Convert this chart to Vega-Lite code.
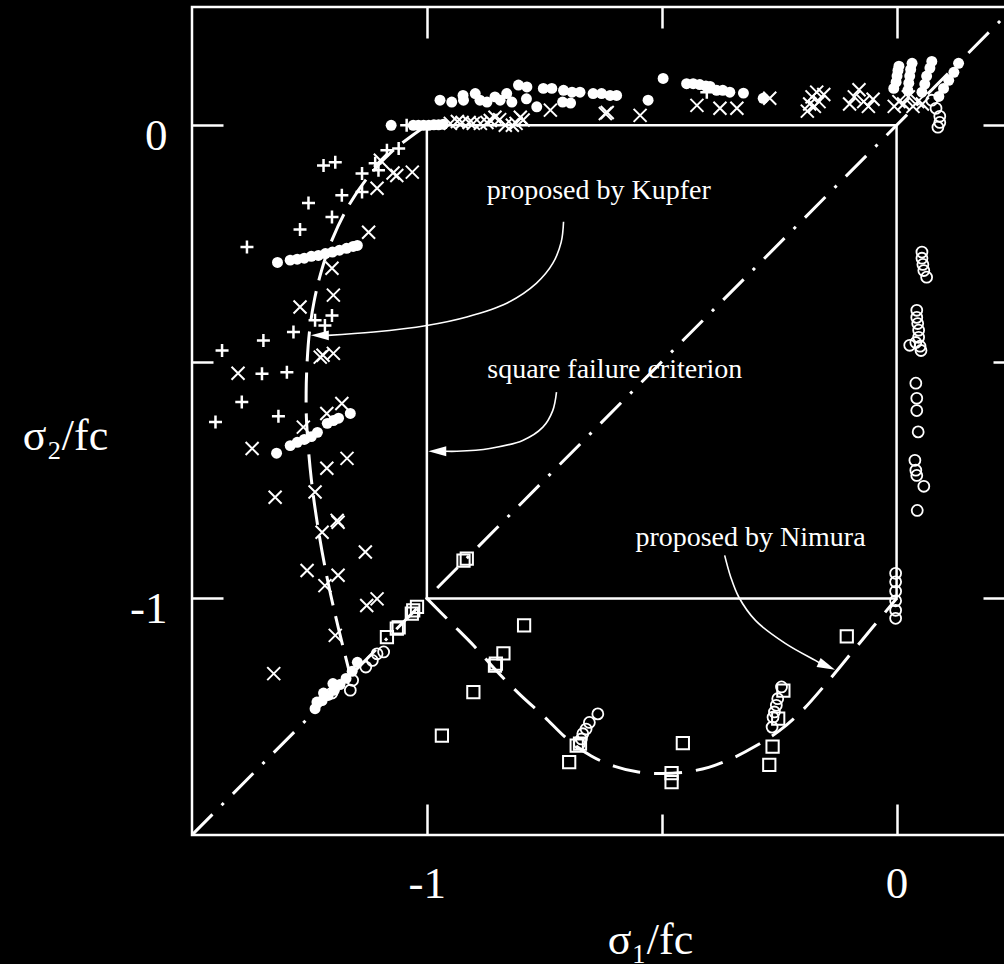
{
  "$schema": "https://vega.github.io/schema/vega-lite/v6.json",
  "width": 822,
  "height": 828,
  "autosize": {"type": "none"},
  "padding": {"left": 192, "top": 7, "right": -10, "bottom": 129},
  "background": "black",
  "config": {
    "view": {"stroke": "white", "strokeWidth": 2.5, "fill": "black"},
    "axis": {
      "grid": false, "domain": false, "tickColor": "white", "tickWidth": 2.5,
      "labelColor": "white", "titleColor": "white",
      "labelFont": "Liberation Serif", "titleFont": "Liberation Serif",
      "labelFontSize": 45, "titleFontSize": 44, "titleFontWeight": "normal",
      "labelFlush": false, "labelOverlap": false
    }
  },
  "datasets": {
    "pts": [
      {"s":"fc","x":-1.076,"y":0.0},{"s":"fc","x":-1.029,"y":0.0},{"s":"fc","x":-1.018,"y":0.0},{"s":"fc","x":-1.007,"y":0.0},{"s":"fc","x":-0.996,"y":0.0},{"s":"fc","x":-0.985,"y":0.001},{"s":"fc","x":-0.975,"y":0.001},{"s":"fc","x":-0.965,"y":0.002},
      {"s":"fc","x":-0.972,"y":0.053},{"s":"fc","x":-0.947,"y":0.049},{"s":"fc","x":-0.923,"y":0.063},{"s":"fc","x":-0.922,"y":0.053},{"s":"fc","x":-0.897,"y":0.067},{"s":"fc","x":-0.887,"y":0.053},{"s":"fc","x":-0.872,"y":0.049},{"s":"fc","x":-0.855,"y":0.060},{"s":"fc","x":-0.844,"y":0.053},{"s":"fc","x":-0.830,"y":0.067},{"s":"fc","x":-0.819,"y":0.049},
      {"s":"fc","x":-0.805,"y":0.085},{"s":"fc","x":-0.787,"y":0.081},{"s":"fc","x":-0.752,"y":0.078},{"s":"fc","x":-0.734,"y":0.078},{"s":"fc","x":-0.709,"y":0.074},{"s":"fc","x":-0.691,"y":0.070},{"s":"fc","x":-0.674,"y":0.070},{"s":"fc","x":-0.646,"y":0.067},{"s":"fc","x":-0.628,"y":0.067},{"s":"fc","x":-0.610,"y":0.063},{"s":"fc","x":-0.596,"y":0.063},
      {"s":"fc","x":-0.788,"y":0.056},{"s":"fc","x":-0.766,"y":0.039},{"s":"fc","x":-0.711,"y":0.049},{"s":"fc","x":-0.694,"y":0.047},
      {"s":"fc","x":-0.529,"y":0.053},{"s":"fc","x":-0.497,"y":0.099},
      {"s":"fc","x":-0.447,"y":0.088},{"s":"fc","x":-0.433,"y":0.088},{"s":"fc","x":-0.419,"y":0.086},{"s":"fc","x":-0.406,"y":0.083},{"s":"fc","x":-0.397,"y":0.082},
      {"s":"fc","x":-0.383,"y":0.074},{"s":"fc","x":-0.370,"y":0.074},{"s":"fc","x":-0.355,"y":0.070},{"s":"fc","x":-0.326,"y":0.068},{"s":"fc","x":-0.284,"y":0.057},
      {"s":"fc","x":-0.006,"y":0.078},{"s":"fc","x":-0.001,"y":0.091},{"s":"fc","x":0.001,"y":0.104},{"s":"fc","x":0.003,"y":0.116},{"s":"fc","x":0.005,"y":0.125},
      {"s":"fc","x":0.024,"y":0.074},{"s":"fc","x":0.026,"y":0.089},{"s":"fc","x":0.028,"y":0.104},{"s":"fc","x":0.030,"y":0.118},{"s":"fc","x":0.033,"y":0.131},
      {"s":"fc","x":0.054,"y":0.070},{"s":"fc","x":0.060,"y":0.087},{"s":"fc","x":0.064,"y":0.104},{"s":"fc","x":0.071,"y":0.121},{"s":"fc","x":0.075,"y":0.135},
      {"s":"fc","x":0.090,"y":0.061},{"s":"fc","x":0.100,"y":0.078},{"s":"fc","x":0.111,"y":0.095},{"s":"fc","x":0.122,"y":0.112},{"s":"fc","x":0.132,"y":0.131},
      {"s":"fc","x":-1.318,"y":-0.290},{"s":"fc","x":-1.291,"y":-0.285},{"s":"fc","x":-1.276,"y":-0.283},{"s":"fc","x":-1.261,"y":-0.281},{"s":"fc","x":-1.246,"y":-0.277},{"s":"fc","x":-1.231,"y":-0.275},{"s":"fc","x":-1.216,"y":-0.271},{"s":"fc","x":-1.201,"y":-0.268},{"s":"fc","x":-1.186,"y":-0.264},{"s":"fc","x":-1.171,"y":-0.260},{"s":"fc","x":-1.157,"y":-0.256},{"s":"fc","x":-1.148,"y":-0.254},
      {"s":"fc","x":-1.320,"y":-0.693},{"s":"fc","x":-1.291,"y":-0.677},{"s":"fc","x":-1.276,"y":-0.670},{"s":"fc","x":-1.261,"y":-0.664},{"s":"fc","x":-1.246,"y":-0.658},{"s":"fc","x":-1.233,"y":-0.649},{"s":"fc","x":-1.212,"y":-0.630},{"s":"fc","x":-1.199,"y":-0.624},{"s":"fc","x":-1.188,"y":-0.619},{"s":"fc","x":-1.163,"y":-0.609},
      {"s":"fc","x":-1.234,"y":-1.219},{"s":"fc","x":-1.238,"y":-1.233},{"s":"fc","x":-1.223,"y":-1.216},{"s":"fc","x":-1.210,"y":-1.205},{"s":"fc","x":-1.197,"y":-1.194},{"s":"fc","x":-1.185,"y":-1.182},{"s":"fc","x":-1.172,"y":-1.169},{"s":"fc","x":-1.159,"y":-1.154},{"s":"fc","x":-1.148,"y":-1.135},{"s":"fc","x":-1.220,"y":-1.200},{"s":"fc","x":-1.200,"y":-1.180},

      {"s":"pl","x":-1.043,"y":0.000},{"s":"pl","x":-1.220,"y":-0.085},{"s":"pl","x":-1.195,"y":-0.078},{"s":"pl","x":-1.138,"y":-0.102},{"s":"pl","x":-1.110,"y":-0.080},{"s":"pl","x":-1.085,"y":-0.053},{"s":"pl","x":-1.060,"y":-0.049},{"s":"pl","x":-1.103,"y":-0.095},{"s":"pl","x":-1.138,"y":-0.141},{"s":"pl","x":-1.181,"y":-0.148},{"s":"pl","x":-1.252,"y":-0.164},{"s":"pl","x":-1.202,"y":-0.194},{"s":"pl","x":-1.270,"y":-0.220},{"s":"pl","x":-1.383,"y":-0.257},
      {"s":"pl","x":-1.202,"y":-0.402},{"s":"pl","x":-1.238,"y":-0.412},{"s":"pl","x":-1.217,"y":-0.423},{"s":"pl","x":-1.284,"y":-0.437},{"s":"pl","x":-1.348,"y":-0.455},{"s":"pl","x":-1.436,"y":-0.476},{"s":"pl","x":-1.351,"y":-0.525},{"s":"pl","x":-1.298,"y":-0.522},{"s":"pl","x":-1.394,"y":-0.585},{"s":"pl","x":-1.316,"y":-0.615},{"s":"pl","x":-1.450,"y":-0.627},{"s":"pl","x":-0.404,"y":0.070},

      {"s":"x","x":-0.950,"y":0.004},{"s":"x","x":-0.935,"y":0.008},{"s":"x","x":-0.925,"y":0.006},{"s":"x","x":-0.910,"y":0.006},{"s":"x","x":-0.901,"y":0.004},{"s":"x","x":-0.886,"y":0.004},{"s":"x","x":-0.872,"y":0.006},{"s":"x","x":-0.865,"y":0.010},{"s":"x","x":-0.855,"y":0.017},{"s":"x","x":-0.845,"y":0.012},{"s":"x","x":-0.833,"y":0.000},{"s":"x","x":-0.818,"y":0.000},{"s":"x","x":-0.810,"y":0.004},{"s":"x","x":-0.801,"y":0.017},{"s":"x","x":-0.795,"y":0.011},
      {"s":"x","x":-0.737,"y":0.032},{"s":"x","x":-0.620,"y":0.025},{"s":"x","x":-0.616,"y":0.027},{"s":"x","x":-0.546,"y":0.021},{"s":"x","x":-0.425,"y":0.042},{"s":"x","x":-0.376,"y":0.036},{"s":"x","x":-0.340,"y":0.036},{"s":"x","x":-0.270,"y":0.057},
      {"s":"x","x":-0.190,"y":0.030},{"s":"x","x":-0.185,"y":0.045},{"s":"x","x":-0.180,"y":0.060},{"s":"x","x":-0.170,"y":0.070},{"s":"x","x":-0.175,"y":0.040},{"s":"x","x":-0.165,"y":0.050},{"s":"x","x":-0.155,"y":0.065},
      {"s":"x","x":-0.100,"y":0.045},{"s":"x","x":-0.090,"y":0.060},{"s":"x","x":-0.080,"y":0.075},{"s":"x","x":-0.070,"y":0.050},{"s":"x","x":-0.060,"y":0.040},{"s":"x","x":-0.050,"y":0.055},
      {"s":"x","x":-0.005,"y":0.040},{"s":"x","x":0.005,"y":0.050},{"s":"x","x":0.015,"y":0.045},{"s":"x","x":0.025,"y":0.060},{"s":"x","x":0.035,"y":0.040},{"s":"x","x":0.045,"y":0.050},{"s":"x","x":0.055,"y":0.045},
      {"s":"x","x":-1.072,"y":-0.101},{"s":"x","x":-1.031,"y":-0.099},{"s":"x","x":-1.106,"y":-0.133},{"s":"x","x":-1.099,"y":-0.074},{"s":"x","x":-1.064,"y":-0.106},{"s":"x","x":-1.124,"y":-0.226},{"s":"x","x":-1.202,"y":-0.302},{"s":"x","x":-1.199,"y":-0.359},{"s":"x","x":-1.270,"y":-0.384},
      {"s":"x","x":-1.221,"y":-0.486},{"s":"x","x":-1.199,"y":-0.482},{"s":"x","x":-1.227,"y":-0.490},{"s":"x","x":-1.402,"y":-0.524},{"s":"x","x":-1.181,"y":-0.588},{"s":"x","x":-1.213,"y":-0.609},{"s":"x","x":-1.263,"y":-0.638},{"s":"x","x":-1.372,"y":-0.683},{"s":"x","x":-1.170,"y":-0.704},{"s":"x","x":-1.213,"y":-0.725},
      {"s":"x","x":-1.238,"y":-0.775},{"s":"x","x":-1.323,"y":-0.786},{"s":"x","x":-1.191,"y":-0.835},{"s":"x","x":-1.189,"y":-0.839},{"s":"x","x":-1.223,"y":-0.860},{"s":"x","x":-1.131,"y":-0.902},{"s":"x","x":-1.255,"y":-0.941},{"s":"x","x":-1.189,"y":-0.951},{"s":"x","x":-1.217,"y":-0.973},{"s":"x","x":-1.106,"y":-1.001},{"s":"x","x":-1.128,"y":-1.015},{"s":"x","x":-1.195,"y":-1.078},{"s":"x","x":-1.326,"y":-1.159},

      {"s":"oc","x":0.054,"y":-0.268},{"s":"oc","x":0.054,"y":-0.281},{"s":"oc","x":0.056,"y":-0.294},{"s":"oc","x":0.058,"y":-0.307},{"s":"oc","x":0.064,"y":-0.321},
      {"s":"oc","x":0.043,"y":-0.391},{"s":"oc","x":0.043,"y":-0.406},{"s":"oc","x":0.045,"y":-0.419},{"s":"oc","x":0.047,"y":-0.433},{"s":"oc","x":0.047,"y":-0.448},{"s":"oc","x":0.041,"y":-0.459},{"s":"oc","x":0.050,"y":-0.467},{"s":"oc","x":0.052,"y":-0.476},{"s":"oc","x":0.028,"y":-0.465},
      {"s":"oc","x":0.041,"y":-0.545},{"s":"oc","x":0.043,"y":-0.577},{"s":"oc","x":0.043,"y":-0.603},{"s":"oc","x":0.046,"y":-0.648},
      {"s":"oc","x":0.039,"y":-0.708},{"s":"oc","x":0.041,"y":-0.729},{"s":"oc","x":0.043,"y":-0.740},{"s":"oc","x":0.058,"y":-0.763},{"s":"oc","x":0.044,"y":-0.814},
      {"s":"oc","x":-0.002,"y":-0.947},{"s":"oc","x":-0.002,"y":-0.965},{"s":"oc","x":-0.002,"y":-0.985},{"s":"oc","x":-0.002,"y":-1.005},{"s":"oc","x":-0.002,"y":-1.025},{"s":"oc","x":-0.002,"y":-1.042},
      {"s":"oc","x":0.075,"y":0.053},{"s":"oc","x":0.084,"y":0.036},{"s":"oc","x":0.092,"y":0.019},{"s":"oc","x":0.092,"y":0.006},{"s":"oc","x":0.088,"y":-0.004},
      {"s":"oc","x":-0.636,"y":-1.244},{"s":"oc","x":-0.654,"y":-1.262},{"s":"oc","x":-0.661,"y":-1.276},{"s":"oc","x":-0.668,"y":-1.286},{"s":"oc","x":-0.671,"y":-1.297},{"s":"oc","x":-0.675,"y":-1.307},
      {"s":"oc","x":-0.245,"y":-1.187},{"s":"oc","x":-0.253,"y":-1.212},{"s":"oc","x":-0.256,"y":-1.226},{"s":"oc","x":-0.260,"y":-1.240},{"s":"oc","x":-0.263,"y":-1.251},{"s":"oc","x":-0.265,"y":-1.272},
      {"s":"oc","x":-1.163,"y":-1.194},{"s":"oc","x":-1.202,"y":-1.200},{"s":"oc","x":-1.158,"y":-1.173},{"s":"oc","x":-1.130,"y":-1.145},{"s":"oc","x":-1.116,"y":-1.131},{"s":"oc","x":-1.106,"y":-1.117},{"s":"oc","x":-1.092,"y":-1.113},

      {"s":"sq","x":-0.922,"y":-0.920},{"s":"sq","x":-0.915,"y":-0.916},{"s":"sq","x":-1.029,"y":-1.025},{"s":"sq","x":-1.032,"y":-1.032},{"s":"sq","x":-1.021,"y":-1.018},{"s":"sq","x":-1.060,"y":-1.061},{"s":"sq","x":-1.064,"y":-1.064},{"s":"sq","x":-1.085,"y":-1.082},
      {"s":"sq","x":-0.901,"y":-1.198},{"s":"sq","x":-0.793,"y":-1.057},{"s":"sq","x":-0.837,"y":-1.116},{"s":"sq","x":-0.855,"y":-1.142},{"s":"sq","x":-0.853,"y":-1.138},{"s":"sq","x":-0.968,"y":-1.290},
      {"s":"sq","x":-0.681,"y":-1.311},{"s":"sq","x":-0.674,"y":-1.307},{"s":"sq","x":-0.697,"y":-1.346},{"s":"sq","x":-0.455,"y":-1.306},{"s":"sq","x":-0.479,"y":-1.369},{"s":"sq","x":-0.479,"y":-1.388},
      {"s":"sq","x":-0.241,"y":-1.195},{"s":"sq","x":-0.252,"y":-1.254},{"s":"sq","x":-0.264,"y":-1.313},{"s":"sq","x":-0.271,"y":-1.352},{"s":"sq","x":-0.106,"y":-1.080}
    ],
    "lines": [
      {"g":"S","o":0,"x":-1,"y":0},{"g":"S","o":1,"x":0,"y":0},{"g":"S","o":2,"x":0,"y":-1},{"g":"S","o":3,"x":-1,"y":-1},{"g":"S","o":4,"x":-1,"y":0},
      {"g":"D","o":0,"x":-1.5,"y":-1.5},{"g":"D","o":1,"x":0.25,"y":0.25},
      {"g":"K","o":0,"x":-1.000,"y":0.000},{"g":"K","o":1,"x":-1.073,"y":-0.054},{"g":"K","o":2,"x":-1.128,"y":-0.113},{"g":"K","o":3,"x":-1.170,"y":-0.176},{"g":"K","o":4,"x":-1.201,"y":-0.240},{"g":"K","o":5,"x":-1.224,"y":-0.306},{"g":"K","o":6,"x":-1.240,"y":-0.372},{"g":"K","o":7,"x":-1.250,"y":-0.437},{"g":"K","o":8,"x":-1.255,"y":-0.502},{"g":"K","o":9,"x":-1.257,"y":-0.566},{"g":"K","o":10,"x":-1.256,"y":-0.628},{"g":"K","o":11,"x":-1.246,"y":-0.748},{"g":"K","o":12,"x":-1.230,"y":-0.861},{"g":"K","o":13,"x":-1.210,"y":-0.968},{"g":"K","o":14,"x":-1.187,"y":-1.068},{"g":"K","o":15,"x":-1.163,"y":-1.163},
      {"g":"N","o":0,"x":-1.00,"y":-1.000},{"g":"N","o":1,"x":-0.95,"y":-1.050},{"g":"N","o":2,"x":-0.90,"y":-1.100},{"g":"N","o":3,"x":-0.85,"y":-1.155},{"g":"N","o":4,"x":-0.80,"y":-1.205},{"g":"N","o":5,"x":-0.75,"y":-1.250},{"g":"N","o":6,"x":-0.70,"y":-1.298},{"g":"N","o":7,"x":-0.65,"y":-1.333},{"g":"N","o":8,"x":-0.60,"y":-1.355},{"g":"N","o":9,"x":-0.55,"y":-1.367},{"g":"N","o":10,"x":-0.50,"y":-1.370},{"g":"N","o":11,"x":-0.45,"y":-1.367},{"g":"N","o":12,"x":-0.40,"y":-1.357},{"g":"N","o":13,"x":-0.35,"y":-1.338},{"g":"N","o":14,"x":-0.30,"y":-1.312},{"g":"N","o":15,"x":-0.25,"y":-1.280},{"g":"N","o":16,"x":-0.20,"y":-1.236},{"g":"N","o":17,"x":-0.15,"y":-1.180},{"g":"N","o":18,"x":-0.10,"y":-1.120},{"g":"N","o":19,"x":-0.05,"y":-1.060},{"g":"N","o":20,"x":0.00,"y":-1.000},
      {"g":"AK","o":0,"x":-0.709,"y":-0.204},{"g":"AK","o":1,"x":-0.714,"y":-0.247},{"g":"AK","o":2,"x":-0.732,"y":-0.292},{"g":"AK","o":3,"x":-0.767,"y":-0.334},{"g":"AK","o":4,"x":-0.830,"y":-0.376},{"g":"AK","o":5,"x":-0.915,"y":-0.405},{"g":"AK","o":6,"x":-1.000,"y":-0.423},{"g":"AK","o":7,"x":-1.113,"y":-0.437},{"g":"AK","o":8,"x":-1.211,"y":-0.444},
      {"g":"AS","o":0,"x":-0.724,"y":-0.564},{"g":"AS","o":1,"x":-0.732,"y":-0.603},{"g":"AS","o":2,"x":-0.753,"y":-0.638},{"g":"AS","o":3,"x":-0.796,"y":-0.666},{"g":"AS","o":4,"x":-0.866,"y":-0.683},{"g":"AS","o":5,"x":-0.936,"y":-0.689},{"g":"AS","o":6,"x":-0.960,"y":-0.689},
      {"g":"AN","o":0,"x":-0.366,"y":-0.909},{"g":"AN","o":1,"x":-0.353,"y":-0.955},{"g":"AN","o":2,"x":-0.336,"y":-0.997},{"g":"AN","o":3,"x":-0.300,"y":-1.047},{"g":"AN","o":4,"x":-0.237,"y":-1.095},{"g":"AN","o":5,"x":-0.173,"y":-1.131},{"g":"AN","o":6,"x":-0.162,"y":-1.137}
    ],
    "heads": [
      {"g":"L","x":-1.247,"y":-0.444},{"g":"L","x":-0.997,"y":-0.689},{"g":"R","x":-0.131,"y":-1.151}
    ],
    "notes": [
      {"t":"proposed by Kupfer","x":-0.634,"y":-0.156},
      {"t":"square failure criterion","x":-0.600,"y":-0.535},
      {"t":"proposed by Nimura","x":-0.311,"y":-0.890}
    ]
  },
  "encoding": {
    "x": {"field": "x", "type": "quantitative", "scale": {"domain": [-1.5, 0.25], "nice": false, "zero": false}, "axis": null},
    "y": {"field": "y", "type": "quantitative", "scale": {"domain": [-1.5, 0.25], "nice": false, "zero": false}, "axis": null}
  },
  "layer": [
    {
      "data": {"name": "lines"},
      "transform": [{"filter": "datum.g == 'S'"}],
      "mark": {"type": "line", "stroke": "white", "strokeWidth": 2.5, "clip": true},
      "encoding": {
        "x": {"field": "x", "type": "quantitative", "scale": {"domain": [-1.5, 0.25], "nice": false, "zero": false},
          "axis": {"orient": "bottom", "values": [-1, -0.5, 0],
            "tickSize": {"condition": {"test": "datum.value == -0.5", "value": -21}, "value": -31},
            "labelExpr": "datum.value == -1 ? '-1' : datum.value == 0 ? '0' : ''",
            "labelPadding": 79, "labelBaseline": "middle", "labelAlign": "center",
            "title": "σ₁/fc", "titleX": 458, "titleY": 118, "titleAlign": "center", "titleBaseline": "alphabetic", "titleAngle": 0}},
        "y": {"field": "y", "type": "quantitative", "scale": {"domain": [-1.5, 0.25], "nice": false, "zero": false},
          "axis": {"orient": "left", "values": [-1, -0.5, 0],
            "tickSize": {"condition": {"test": "datum.value == -0.5", "value": -21}, "value": -31},
            "labelExpr": "datum.value == -1 ? '-1' : datum.value == 0 ? '0' : ''",
            "labelPadding": 56, "labelBaseline": "middle", "labelAlign": "right", "labelOffset": 10,
            "title": "σ₂/fc", "titleX": -127, "titleY": 442, "titleAlign": "center", "titleBaseline": "alphabetic", "titleAngle": 0}},
        "order": {"field": "o", "type": "quantitative"}
      }
    },
    {
      "data": {"name": "lines"},
      "transform": [{"filter": "datum.g == 'D'"}],
      "mark": {"type": "line", "stroke": "white", "strokeWidth": 3, "strokeDash": [29, 13, 3, 13], "clip": true},
      "encoding": {
        "x": {"field": "x", "type": "quantitative", "scale": {"domain": [-1.5, 0.25], "nice": false, "zero": false},
          "axis": {"orient": "top", "values": [-1, -0.5, 0], "labels": false, "title": null,
            "tickSize": {"condition": {"test": "datum.value == -0.5", "value": -21}, "value": -31}}},
        "y": {"field": "y", "type": "quantitative", "scale": {"domain": [-1.5, 0.25], "nice": false, "zero": false},
          "axis": {"orient": "right", "values": [-1, -0.5, 0], "labels": false, "title": null,
            "tickSize": {"condition": {"test": "datum.value == -0.5", "value": -21}, "value": -31}}},
        "order": {"field": "o", "type": "quantitative"}
      }
    },
    {
      "data": {"name": "lines"},
      "transform": [{"filter": "datum.g == 'K'"}],
      "mark": {"type": "line", "stroke": "white", "strokeWidth": 3, "strokeDash": [30, 11], "interpolate": "catmull-rom", "clip": true},
      "encoding": {"order": {"field": "o", "type": "quantitative"}}
    },
    {
      "data": {"name": "lines"},
      "transform": [{"filter": "datum.g == 'N'"}],
      "mark": {"type": "line", "stroke": "white", "strokeWidth": 3, "strokeDash": [28, 14], "interpolate": "catmull-rom", "clip": true},
      "encoding": {"order": {"field": "o", "type": "quantitative"}}
    },
    {
      "data": {"name": "lines"},
      "transform": [{"filter": "datum.g == 'AK' || datum.g == 'AS' || datum.g == 'AN'"}],
      "mark": {"type": "line", "stroke": "white", "strokeWidth": 1.6, "interpolate": "catmull-rom"},
      "encoding": {"detail": {"field": "g"}, "order": {"field": "o", "type": "quantitative"}}
    },
    {
      "data": {"name": "heads"},
      "transform": [{"filter": "datum.g == 'L'"}],
      "mark": {"type": "point", "shape": "M0,0L2,-0.55L2,0.55Z", "filled": true, "fill": "white", "strokeWidth": 0, "size": 324, "opacity": 1}
    },
    {
      "data": {"name": "heads"},
      "transform": [{"filter": "datum.g == 'R'"}],
      "mark": {"type": "point", "shape": "M0,0L-2,-0.55L-2,0.55Z", "angle": 24, "filled": true, "fill": "white", "strokeWidth": 0, "size": 324, "opacity": 1}
    },
    {
      "data": {"name": "notes"},
      "mark": {"type": "text", "font": "Liberation Serif", "fontSize": 28, "color": "white", "align": "center", "baseline": "alphabetic"},
      "encoding": {"text": {"field": "t"}}
    },
    {
      "data": {"name": "pts"},
      "transform": [{"filter": "datum.s == 'fc'"}],
      "mark": {"type": "point", "shape": "circle", "filled": true, "fill": "white", "strokeWidth": 0, "size": 120, "opacity": 1}
    },
    {
      "data": {"name": "pts"},
      "transform": [{"filter": "datum.s == 'oc'"}],
      "mark": {"type": "point", "shape": "circle", "filled": false, "stroke": "white", "strokeWidth": 1.8, "size": 120, "opacity": 1}
    },
    {
      "data": {"name": "pts"},
      "transform": [{"filter": "datum.s == 'sq'"}],
      "mark": {"type": "point", "shape": "square", "filled": false, "stroke": "white", "strokeWidth": 2, "size": 150, "opacity": 1}
    },
    {
      "data": {"name": "pts"},
      "transform": [{"filter": "datum.s == 'x'"}],
      "mark": {"type": "point", "shape": "M-1,-1L1,1M-1,1L1,-1", "filled": false, "stroke": "white", "strokeWidth": 2, "size": 169, "opacity": 1}
    },
    {
      "data": {"name": "pts"},
      "transform": [{"filter": "datum.s == 'pl'"}],
      "mark": {"type": "point", "shape": "M-1,0L1,0M0,-1L0,1", "filled": false, "stroke": "white", "strokeWidth": 2.5, "size": 169, "opacity": 1}
    }
  ],
  "resolve": {"axis": {"x": "independent", "y": "independent"}}
}
